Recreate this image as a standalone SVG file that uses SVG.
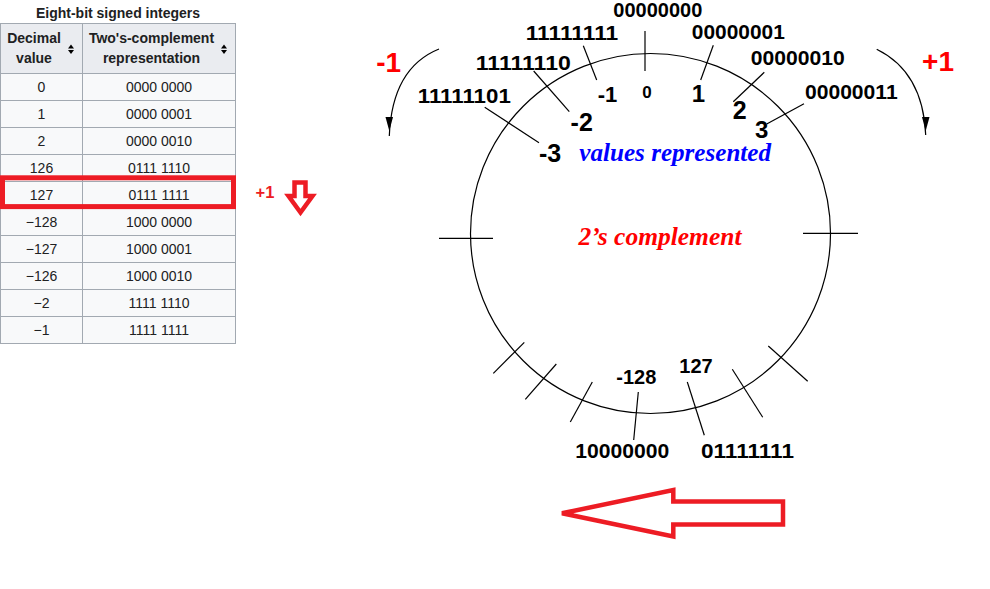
<svg xmlns="http://www.w3.org/2000/svg" width="990" height="589" viewBox="0 0 990 589">
<style>
.cap{font-family:"Liberation Sans",Arial,sans-serif;font-weight:bold;font-size:14px;fill:#202122;text-anchor:middle}
.th{font-family:"Liberation Sans",Arial,sans-serif;font-weight:bold;font-size:14px;fill:#202122;text-anchor:middle}
.td{font-family:"Liberation Sans",Arial,sans-serif;font-size:14px;fill:#202122;text-anchor:middle}
.hdr{fill:#eaecf0;stroke:#a2a9b1;stroke-width:1}
.cell{fill:#f8f9fa;stroke:#a2a9b1;stroke-width:1}
.lbl{font-family:"Liberation Sans",Arial,sans-serif;font-weight:bold;fill:#000;text-anchor:middle}
.bits{font-size:20px}
.ln{stroke:#000;stroke-width:1.2;fill:none}
.paint{fill:none;stroke:#ed1c24;stroke-width:4.5;stroke-linejoin:miter}
.ser{font-family:"Liberation Serif","Times New Roman",serif;font-weight:bold;font-style:italic;font-size:25px;text-anchor:middle}
</style>
<rect width="990" height="589" fill="#fff"/>

<g id="table">
<text class="cap" x="118" y="18.3">Eight-bit signed integers</text>
<rect class="hdr" x="0.5" y="23.5" width="82" height="50"/>
<rect class="hdr" x="82.5" y="23.5" width="153" height="50"/>
<text class="th" x="34" y="43.3">Decimal</text>
<text class="th" x="34" y="63.3">value</text>
<text class="th" x="151.5" y="43.3">Two's-complement</text>
<text class="th" x="151.5" y="63.3">representation</text>
<path d="M68 48.5 L71 44.5 L74 48.5 Z M68 50 L71 54 L74 50 Z" fill="#000"/>
<path d="M221 48.5 L224 44.5 L227 48.5 Z M221 50 L224 54 L227 50 Z" fill="#000"/>
<g id="rows">
<rect class="cell" x="0.5" y="73.5" width="82" height="27"/><rect class="cell" x="82.5" y="73.5" width="153" height="27"/>
<rect class="cell" x="0.5" y="100.5" width="82" height="27"/><rect class="cell" x="82.5" y="100.5" width="153" height="27"/>
<rect class="cell" x="0.5" y="127.5" width="82" height="27"/><rect class="cell" x="82.5" y="127.5" width="153" height="27"/>
<rect class="cell" x="0.5" y="154.5" width="82" height="27"/><rect class="cell" x="82.5" y="154.5" width="153" height="27"/>
<rect class="cell" x="0.5" y="181.5" width="82" height="27"/><rect class="cell" x="82.5" y="181.5" width="153" height="27"/>
<rect class="cell" x="0.5" y="208.5" width="82" height="27"/><rect class="cell" x="82.5" y="208.5" width="153" height="27"/>
<rect class="cell" x="0.5" y="235.5" width="82" height="27"/><rect class="cell" x="82.5" y="235.5" width="153" height="27"/>
<rect class="cell" x="0.5" y="262.5" width="82" height="27"/><rect class="cell" x="82.5" y="262.5" width="153" height="27"/>
<rect class="cell" x="0.5" y="289.5" width="82" height="27"/><rect class="cell" x="82.5" y="289.5" width="153" height="27"/>
<rect class="cell" x="0.5" y="316.5" width="82" height="27"/><rect class="cell" x="82.5" y="316.5" width="153" height="27"/>
<text class="td" x="41.5" y="91.7">0</text><text class="td" x="159" y="91.7">0000 0000</text>
<text class="td" x="41.5" y="118.7">1</text><text class="td" x="159" y="118.7">0000 0001</text>
<text class="td" x="41.5" y="145.7">2</text><text class="td" x="159" y="145.7">0000 0010</text>
<text class="td" x="41.5" y="172.7">126</text><text class="td" x="159" y="172.7">0111 1110</text>
<text class="td" x="41.5" y="199.7">127</text><text class="td" x="159" y="199.7">0111 1111</text>
<text class="td" x="41.5" y="226.7">−128</text><text class="td" x="159" y="226.7">1000 0000</text>
<text class="td" x="41.5" y="253.7">−127</text><text class="td" x="159" y="253.7">1000 0001</text>
<text class="td" x="41.5" y="280.7">−126</text><text class="td" x="159" y="280.7">1000 0010</text>
<text class="td" x="41.5" y="307.7">−2</text><text class="td" x="159" y="307.7">1111 1110</text>
<text class="td" x="41.5" y="334.7">−1</text><text class="td" x="159" y="334.7">1111 1111</text>
</g>
</g>

<g id="highlight">
<rect x="2.5" y="177.8" width="231" height="28.8" fill="none" stroke="#ed1c24" stroke-width="5"/>
<text x="265" y="198.3" font-family="Liberation Sans,Arial,sans-serif" font-weight="bold" font-size="16.5" fill="#ed1c24" text-anchor="middle">+1</text>
<polygon class="paint" stroke-width="3" points="294.5,182.5 305.5,182.5 305.5,196 312.5,196 300.5,212.5 288.5,196 294.5,196"/>
</g>

<g id="wheel">
<circle cx="650.5" cy="233.5" r="180" fill="none" stroke="#000" stroke-width="1.2"/>
</g>

<g id="connectors">
<line class="ln" x1="645" y1="31" x2="645" y2="71"/>
<line class="ln" x1="439" y1="238.3" x2="493" y2="238.3"/>
<line class="ln" x1="803" y1="233.3" x2="858" y2="233.3"/>
<line class="ln" x1="583.3" y1="45.7" x2="596.7" y2="80"/>
<line class="ln" x1="533.7" y1="71" x2="569.3" y2="111.7"/>
<line class="ln" x1="484.7" y1="107.3" x2="539" y2="142.7"/>
<line class="ln" x1="713.3" y1="45.3" x2="700.7" y2="80"/>
<line class="ln" x1="764.3" y1="72.3" x2="733.3" y2="101.7"/>
<line class="ln" x1="804" y1="103.7" x2="766.7" y2="124"/>
<line class="ln" x1="493.3" y1="373.3" x2="524.3" y2="342.3"/>
<line class="ln" x1="525.3" y1="399.3" x2="556.3" y2="364"/>
<line class="ln" x1="570.3" y1="422" x2="592.3" y2="382"/>
<line class="ln" x1="638.3" y1="392" x2="633.7" y2="440"/>
<line class="ln" x1="687.3" y1="382" x2="704.3" y2="435.3"/>
<line class="ln" x1="732.3" y1="369.3" x2="762.7" y2="417.3"/>
<line class="ln" x1="768.3" y1="346" x2="807.7" y2="381.3"/>
<path class="ln" d="M439 49 Q392 68 389.3 136"/>
<polygon points="385.5,117 393,117 389.3,131" fill="#000"/>
<path class="ln" d="M876.7 49.3 Q923 72 925.7 135"/>
<polygon points="922,117 929.5,117 925.7,131" fill="#000"/>
</g>

<g id="labels">
<text class="lbl bits" x="657.8" y="16.7" textLength="89" lengthAdjust="spacingAndGlyphs">00000000</text>
<text class="lbl bits" x="572" y="40" textLength="92.6" lengthAdjust="spacingAndGlyphs">11111111</text>
<text class="lbl bits" x="738.3" y="39.3" textLength="93" lengthAdjust="spacingAndGlyphs">00000001</text>
<text class="lbl bits" x="523.3" y="70" textLength="95" lengthAdjust="spacingAndGlyphs">11111110</text>
<text class="lbl bits" x="797.8" y="65" textLength="94" lengthAdjust="spacingAndGlyphs">00000010</text>
<text class="lbl bits" x="464.3" y="103.3" textLength="93" lengthAdjust="spacingAndGlyphs">11111101</text>
<text class="lbl bits" x="851.3" y="99.3" textLength="92.7" lengthAdjust="spacingAndGlyphs">00000011</text>
<text class="lbl bits" x="622.2" y="457.7" textLength="94" lengthAdjust="spacingAndGlyphs">10000000</text>
<text class="lbl bits" x="747.5" y="457.7" textLength="93" lengthAdjust="spacingAndGlyphs">01111111</text>
<text class="lbl" x="607.5" y="101.7" font-size="22">-1</text>
<text class="lbl" x="647" y="97.7" font-size="17">0</text>
<text class="lbl" x="581.7" y="131" font-size="25">-2</text>
<text class="lbl" x="550" y="161.7" font-size="25">-3</text>
<text class="lbl" x="698.5" y="102.3" font-size="24">1</text>
<text class="lbl" x="739.7" y="119" font-size="25">2</text>
<text class="lbl" x="761.7" y="138.3" font-size="24">3</text>
<text class="lbl" x="636.3" y="384" font-size="20">-128</text>
<text class="lbl" x="696" y="372.7" font-size="20">127</text>
<text class="lbl" x="388.7" y="71.7" font-size="28" fill="#ff0000" style="fill:#ff0000">-1</text>
<text class="lbl" x="938" y="71" font-size="28" style="fill:#ff0000">+1</text>
<text class="ser" x="675.2" y="161" fill="#0000ff" textLength="191.7" lengthAdjust="spacingAndGlyphs">values represented</text>
<text class="ser" x="660" y="245" fill="#ff0000" textLength="163" lengthAdjust="spacingAndGlyphs">2’s complement</text>
</g>

<g id="big-arrow">
<polygon class="paint" points="562,513.3 673.3,490 673.3,501.5 783,501.5 783,524.5 673.3,524.5 673.3,536.5"/>
</g>
</svg>
